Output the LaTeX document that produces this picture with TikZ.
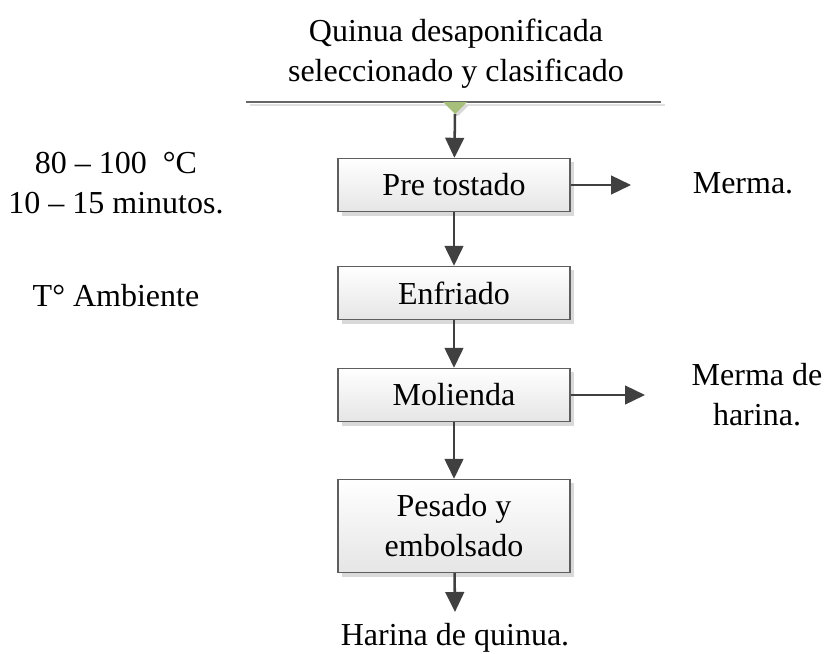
\documentclass[tikz,border=0pt]{standalone}
\usepackage{fontspec}
\setmainfont{Liberation Serif}
\usepackage{tikz}
\usetikzlibrary{arrows.meta, shadows}
\definecolor{linegray}{HTML}{404040}
\definecolor{boxedge}{HTML}{5E5E5E}
\definecolor{trigreen}{HTML}{A6BF7A}

\tikzset{
  proc/.style={draw=boxedge, line width=0.8pt, top color=white, bottom color=black!10,
    minimum width=174pt, minimum height=40pt, align=center, inner sep=2pt,
    drop shadow={shadow xshift=3pt, shadow yshift=-3pt, fill=black!15, opacity=1}},
  label/.style={align=center, inner sep=0pt},
  flow/.style={draw=linegray, line width=1.9pt, -{Triangle[length=15pt, width=14pt]}}
}

\begin{document}
\begin{tikzpicture}[x=0.75pt, y=-0.75pt, every node/.style={font=\fontsize{24}{30}\selectfont}]
      \useasboundingbox (0,0) rectangle (827,653);
      \node[label] (entrada) at (456,54) {Quinua desaponificada\\seleccionado y clasificado};
      \draw[black!60, line width=1pt] (246,102) -- (661,102);
      \draw[black!12, line width=1pt] (250,105) -- (665,105);
      \fill[black!15] (446,105) -- (469,105) -- (458,116) -- cycle;
      \fill[trigreen] (443,102) -- (467,102) -- (455,114) -- cycle;
      \coordinate (inicio) at (455,114);
      \node[proc] (pretostado) at (454,185) {Pre tostado};
      \node[proc] (enfriado) at (454,293) {Enfriado};
      \node[proc] (molienda) at (454,395) {Molienda};
      \node[proc, minimum height=70pt] (pesado) at (454,526) {Pesado y\\embolsado};
      \node[label] (salida) at (455,638) {Harina de quinua.};
      \node[label] (temp1) at (116,183) {80 -- 100~~°C\\10 -- 15 minutos.};
      \node[label] (temp2) at (116,296) {T° Ambiente};
      \node[label] (merma1) at (743,183) {Merma.};
      \node[label] (merma2) at (757,395) {Merma de\\harina.};
      \coordinate (m1) at (631,185);
      \coordinate (m2) at (645,395);
      \draw[flow] (inicio) -- (pretostado);
      \draw[flow] (pretostado) -- (enfriado);
      \draw[flow] (enfriado) -- (molienda);
      \draw[flow] (molienda) -- (pesado);
      \draw[flow] (pesado) -- (455,612);
      \draw[flow] (pretostado) -- (m1);
      \draw[flow] (molienda) -- (m2);
    \end{tikzpicture}
\end{document}
